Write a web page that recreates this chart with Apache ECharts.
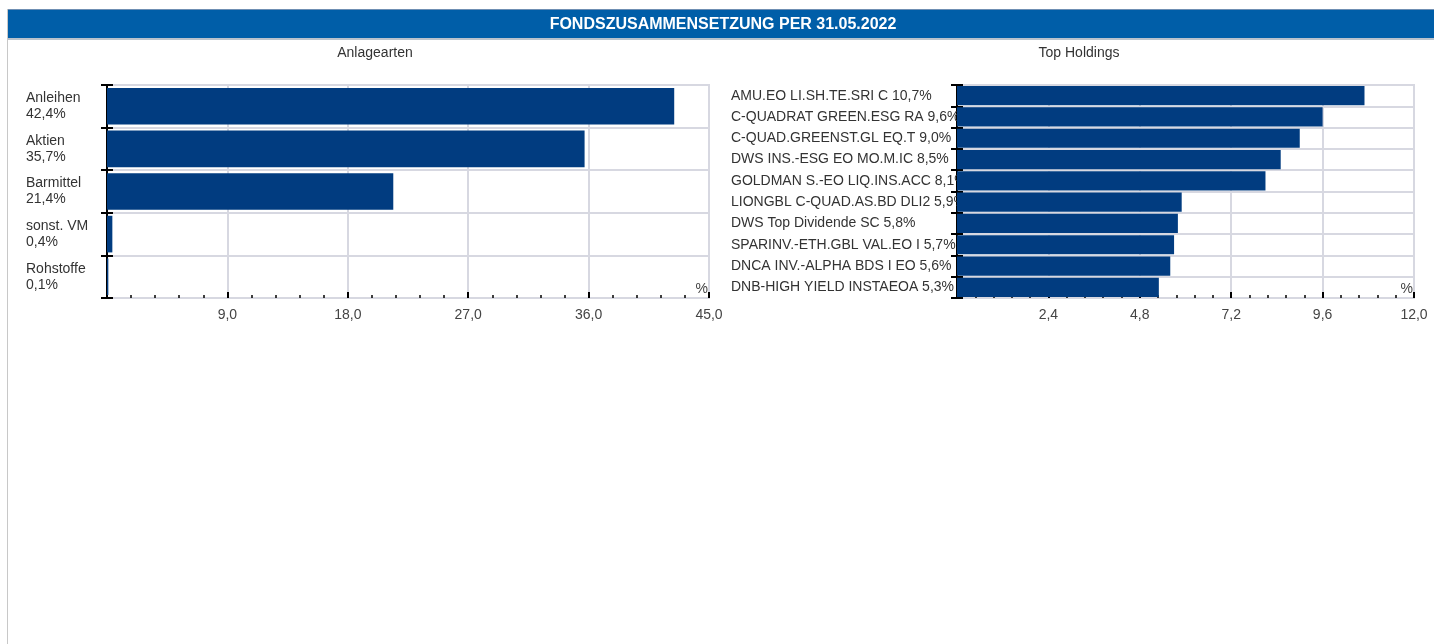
<!DOCTYPE html>
<html>
<head>
<meta charset="utf-8">
<script src="https://cdn.jsdelivr.net/npm/echarts@6/dist/echarts.min.js"></script>
<style>
html, body { margin: 0; padding: 0; background: #fff; }
#chart { width: 1434px; height: 644px; }
</style>
</head>
<body>
<div id="chart"></div>
<script>
var assetNames = ["Anleihen", "Aktien", "Barmittel", "sonst. VM", "Rohstoffe"];
var assetValues = [42.4, 35.7, 21.4, 0.4, 0.1];

var holdingNames = [
  "AMU.EO LI.SH.TE.SRI C",
  "C-QUADRAT GREEN.ESG RA",
  "C-QUAD.GREENST.GL EQ.T",
  "DWS INS.-ESG EO MO.M.IC",
  "GOLDMAN S.-EO LIQ.INS.ACC",
  "LIONGBL C-QUAD.AS.BD DLI2",
  "DWS Top Dividende SC",
  "SPARINV.-ETH.GBL VAL.EO I",
  "DNCA INV.-ALPHA BDS I EO",
  "DNB-HIGH YIELD INSTAEOA"
];
var holdingValues = [10.7, 9.6, 9.0, 8.5, 8.1, 5.9, 5.8, 5.7, 5.6, 5.3];

var assetMax = 45, assetStep = 9;
var holdingMax = 12, holdingStep = 2.4;

var fmt = function(v) {
  return v.toFixed(1).replace(".", ",");
};

var F = echarts.init(document.getElementById("chart"));
var font = "Liberation Sans, Arial, sans-serif";
var gridColor = "#d7d8e1";
var barColor = "#013c80";

var xAxisOf = function(gi, max, step) {
  return {
    type: "value",
    gridIndex: gi,
    min: 0,
    max: max,
    interval: step,
    name: "%",
    nameLocation: "end",
    nameGap: -1,
    nameTextStyle: {
      color: "#444",
      fontFamily: font,
      fontSize: 14,
      align: "right",
      verticalAlign: "bottom",
      padding: [0, 0, 2, 0]
    },
    axisLine: { lineStyle: { color: "#000", width: 2 } },
    axisTick: { show: true, inside: true, length: 6, lineStyle: { color: "#000", width: 2 } },
    minorTick: { show: true, splitNumber: 5, length: 3, lineStyle: { color: "#000", width: 1.5 } },
    splitLine: { show: true, lineStyle: { color: gridColor, width: 2 } },
    axisLabel: {
      showMinLabel: false,
      color: "#444",
      fontFamily: font,
      fontSize: 14,
      margin: 10,
      formatter: function(v) { return fmt(v); }
    }
  };
};

var yAxisOf = function(gi, names, labelFn, margin, lh) {
  return [{
    type: "category",
    gridIndex: gi,
    position: "left",
    inverse: true,
    data: names,
    axisLine: { lineStyle: { color: "#000", width: 2 } },
    axisTick: { show: true, length: 6, lineStyle: { color: "#000", width: 2 } },
    splitLine: { show: true, lineStyle: { color: gridColor, width: 2 } },
    axisLabel: {
      align: "left",
      margin: margin,
      color: "#333",
      fontFamily: font,
      fontSize: 14,
      lineHeight: lh,
      formatter: labelFn
    }
  }, {
    // second axis only to make the ticks cross the axis line
    type: "category",
    gridIndex: gi,
    position: "left",
    offset: 0,
    inverse: true,
    data: names,
    axisLine: { show: false },
    axisTick: { show: true, inside: true, length: 6, lineStyle: { color: "#000", width: 2 } },
    splitLine: { show: false },
    axisLabel: { show: false }
  }];
};

var assetLabel = function(v, i) {
  return v + "\n" + fmt(assetValues[i]) + "%";
};
var holdingLabel = function(v, i) {
  return v + " " + fmt(holdingValues[i]) + "%";
};

var r = {
  animation: false,
  textStyle: { fontFamily: font },
  graphic: [{
    type: "rect",
    shape: { x: 8, y: 9, width: 1426, height: 30 },
    style: { fill: "#005ea8" },
    z: 0
  }, {
    type: "rect",
    shape: { x: 8, y: 9, width: 1426, height: 1 },
    style: { fill: "#6f8fb3" },
    z: 1
  }, {
    type: "rect",
    shape: { x: 8, y: 38, width: 1426, height: 2 },
    style: { fill: "#b9c2cc" },
    z: 1
  }, {
    type: "rect",
    shape: { x: 7, y: 9, width: 1, height: 635 },
    style: { fill: "#c8c8c8" },
    z: 1
  }],
  title: [{
    text: "FONDSZUSAMMENSETZUNG PER 31.05.2022",
    left: 723,
    top: 17,
    padding: 0,
    textAlign: "center",
    textStyle: { color: "#fff", fontSize: 16, fontWeight: "bold", fontFamily: font }
  }, {
    text: "Anlagearten",
    left: 375,
    top: 46,
    padding: 0,
    textAlign: "center",
    textStyle: { color: "#333", fontSize: 14, fontWeight: "normal", fontFamily: font }
  }, {
    text: "Top Holdings",
    left: 1079,
    top: 46,
    padding: 0,
    textAlign: "center",
    textStyle: { color: "#333", fontSize: 14, fontWeight: "normal", fontFamily: font }
  }],
  grid: [{
    left: 107, top: 85, width: 602, height: 213,
    show: true, borderColor: gridColor, borderWidth: 2
  }, {
    left: 957, top: 85, width: 457, height: 213,
    show: true, borderColor: gridColor, borderWidth: 2
  }],
  xAxis: [xAxisOf(0, assetMax, assetStep), xAxisOf(1, holdingMax, holdingStep)],
  yAxis: yAxisOf(0, assetNames, assetLabel, 81, 16).concat(yAxisOf(1, holdingNames, holdingLabel, 226, 15)),
  series: [{
    type: "bar",
    xAxisIndex: 0,
    yAxisIndex: 0,
    barCategoryGap: "14%",
    itemStyle: { color: barColor },
    data: assetValues
  }, {
    type: "bar",
    xAxisIndex: 1,
    yAxisIndex: 2,
    barCategoryGap: "10%",
    itemStyle: { color: barColor },
    data: holdingValues
  }]
};
F.setOption(r);
</script>
</body>
</html>
